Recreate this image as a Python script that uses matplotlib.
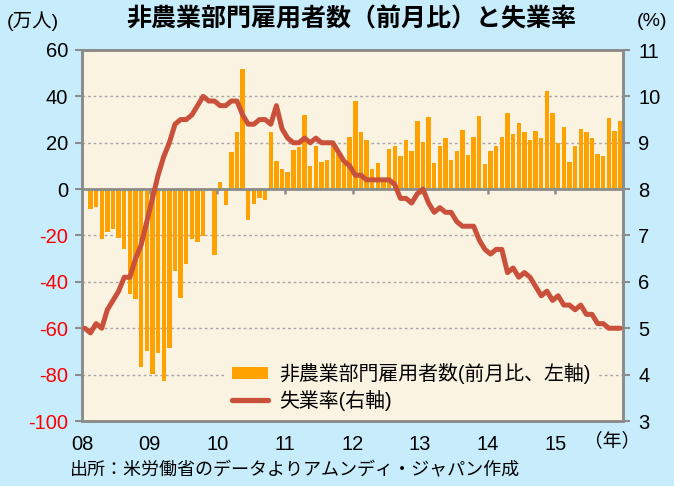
import matplotlib
matplotlib.use("Agg")
import numpy as np
import matplotlib.pyplot as plt
from matplotlib.patches import Patch
from matplotlib.lines import Line2D

plt.rcParams['font.family'] = ['Liberation Sans', 'Noto Sans CJK JP', 'DejaVu Sans']

# ---- data (monthly, Jan 2008 - Dec 2015) ----
payrolls_2008 = [0, -8.6, -7.9, -21.3, -18.4, -17.1, -20.9, -25.9, -45.2, -47.5, -76.5, -69.6]
payrolls_2009 = [-79.7, -70.5, -82.6, -68.5, -35.5, -46.8, -32.5, -21.7, -22.7, -20.3, 0, -28.3]
payrolls_2010 = [3.1, -6.8, 16.0, 24.6, 51.8, -13.1, -6.5, -3.9, -4.9, 24.6, 12.1, 8.8]
payrolls_2011 = [7.3, 16.7, 18.0, 32.0, 10.1, 18.5, 11.7, 12.7, 20.0, 15.0, 11.0, 22.6]
payrolls_2012 = [37.8, 24.6, 21.4, 8.6, 11.2, 5.0, 17.5, 18.7, 14.2, 21.3, 16.3, 29.4]
payrolls_2013 = [20.3, 31.2, 11.4, 18.7, 21.9, 12.5, 16.3, 25.5, 14.8, 22.4, 31.6, 10.8]
payrolls_2014 = [16.5, 18.7, 22.4, 32.9, 23.6, 28.6, 24.7, 21.3, 25.0, 21.9, 42.3, 32.8]
payrolls_2015 = [20.1, 26.6, 11.8, 18.7, 26.0, 24.5, 22.2, 15.3, 14.4, 30.6, 25.2, 29.2]

unemp_2008 = [5.0, 4.9, 5.1, 5.0, 5.4, 5.6, 5.8, 6.1, 6.1, 6.5, 6.8, 7.3]
unemp_2009 = [7.8, 8.3, 8.7, 9.0, 9.4, 9.5, 9.5, 9.6, 9.8, 10.0, 9.9, 9.9]
unemp_2010 = [9.8, 9.8, 9.9, 9.9, 9.6, 9.4, 9.4, 9.5, 9.5, 9.4, 9.8, 9.3]
unemp_2011 = [9.1, 9.0, 9.0, 9.1, 9.0, 9.1, 9.0, 9.0, 9.0, 8.8, 8.6, 8.5]
unemp_2012 = [8.3, 8.3, 8.2, 8.2, 8.2, 8.2, 8.2, 8.1, 7.8, 7.8, 7.7, 7.9]
unemp_2013 = [8.0, 7.7, 7.5, 7.6, 7.5, 7.5, 7.3, 7.2, 7.2, 7.2, 6.9, 6.7]
unemp_2014 = [6.6, 6.7, 6.7, 6.2, 6.3, 6.1, 6.2, 6.1, 5.9, 5.7, 5.8, 5.6]
unemp_2015 = [5.7, 5.5, 5.5, 5.4, 5.5, 5.3, 5.3, 5.1, 5.1, 5.0, 5.0, 5.0]

year_labels = ['08', '09', '10', '11', '12', '13', '14', '15']
left_ticks = [-100, -80, -60, -40, -20, 0, 20, 40, 60]
right_ticks = [3, 4, 5, 6, 7, 8, 9, 10, 11]

title = '非農業部門雇用者数（前月比）と失業率'
bar_label = '非農業部門雇用者数(前月比、左軸)'
line_label = '失業率(右軸)'
source = '出所：米労働省のデータよりアムンディ・ジャパン作成'

payrolls = np.array(payrolls_2008 + payrolls_2009 + payrolls_2010 + payrolls_2011 +
                    payrolls_2012 + payrolls_2013 + payrolls_2014 + payrolls_2015)
unemployment = np.array(unemp_2008 + unemp_2009 + unemp_2010 + unemp_2011 +
                        unemp_2012 + unemp_2013 + unemp_2014 + unemp_2015)
months = np.arange(len(payrolls)) + 0.5
year_starts = np.arange(len(year_labels)) * 12

# ---- style ----
FIG_BG = '#C7EDFC'
PLOT_BG = '#FBF3E1'
ORANGE = '#FFA200'
LINE = '#C9503B'
GRAY = '#8C8C8C'

W, H = 674, 486
fig = plt.figure(figsize=(W / 100, H / 100), dpi=100, facecolor=FIG_BG)
ax = fig.add_axes([82 / W, 1 - 421 / H, 541 / W, 371 / H])
ax.set_facecolor(PLOT_BG)

ax.bar(months, payrolls, width=0.78, color=ORANGE, zorder=2)
ax.set_xlim(0, len(payrolls))
ax.set_ylim(-100, 60)
ax.set_yticks(left_ticks)
ax.set_yticklabels([str(v) for v in left_ticks])
for lab, v in zip(ax.get_yticklabels(), left_ticks):
    lab.set_color('#FF0000' if v < 0 else 'black')
ax.yaxis.grid(True, linestyle=(0, (2, 2)), color='#A8A8A8', linewidth=1)
ax.set_axisbelow(True)
ax.axhline(0, color=GRAY, linewidth=2, zorder=3)
ax.vlines(year_starts[1:], -2.3, 0, color=GRAY, linewidth=1.8, zorder=3)

ax.set_xticks(year_starts)
ax.set_xticklabels(year_labels)
ax.tick_params(axis='x', length=0, pad=10, labelsize=14.5)
ax.tick_params(axis='y', length=5, width=1.5, color=GRAY, pad=5, labelsize=14.5)
for s in ax.spines.values():
    s.set_color(GRAY)
    s.set_linewidth(2)

ax2 = ax.twinx()
ax2.plot(months, unemployment, color=LINE, linewidth=3.6, solid_capstyle='round',
         solid_joinstyle='round', zorder=4)
ax2.set_ylim(3, 11)
ax2.set_yticks(right_ticks)
ax2.tick_params(axis='y', length=5, width=1.5, color=GRAY, pad=6, labelsize=14.5)
for s in ax2.spines.values():
    s.set_color(GRAY)
    s.set_linewidth(2)

handles = [Patch(facecolor=ORANGE, edgecolor='none'),
           Line2D([], [], color=LINE, linewidth=3.8, solid_capstyle='round')]
leg = ax2.legend(handles, [bar_label, line_label], loc='lower left',
                 bbox_to_anchor=(0.262, 0.006), borderaxespad=0, frameon=True,
                 facecolor=PLOT_BG, edgecolor='none', framealpha=1, fontsize=14.3,
                 handlelength=1.85, handleheight=0.6, handletextpad=0.55,
                 labelspacing=0.3, borderpad=0.4, fancybox=False)

fig.text(351 / W, 1 - 19 / H, title, ha='center', va='center', fontsize=18,
         fontweight='bold', family=['Noto Sans CJK JP'])
fig.text(33 / W, 1 - 21 / H, '(万人)', ha='center', va='center', fontsize=14)
fig.text(652 / W, 1 - 21 / H, '(%)', ha='center', va='center', fontsize=14)
fig.text(612 / W, 1 - 441 / H, '（年）', ha='center', va='center', fontsize=13.5,
         family=['Noto Sans CJK JP'])
fig.text(70 / W, 1 - 470 / H, source, ha='left', va='center', fontsize=13,
         family=['Noto Sans CJK JP'])

fig.savefig('out.png', dpi=100, facecolor=FIG_BG)
